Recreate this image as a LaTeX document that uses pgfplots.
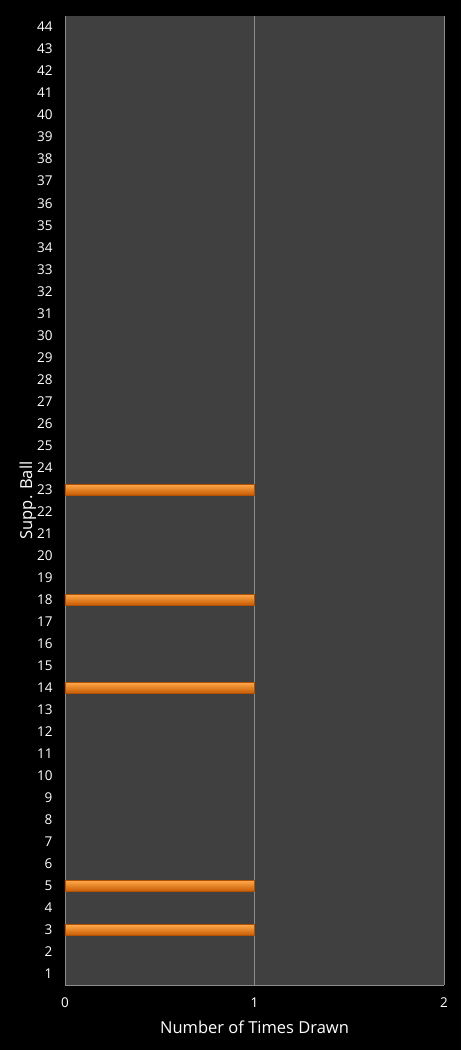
\documentclass[border=0pt]{standalone}
\usepackage{fontspec}
\setmainfont{Open Sans}
\usepackage{pgfplots}
\pgfplotsset{compat=1.18}
\definecolor{plotbg}{HTML}{404040}
\definecolor{gridc}{HTML}{8C8C8C}
\definecolor{barmid}{HTML}{F7820C}
\definecolor{bartop}{HTML}{FFA84A}
\definecolor{barbot}{HTML}{C85C04}
\definecolor{baredge}{HTML}{B05204}
\pgfplotsset{orangebar/.style={xbar, bar shift=0pt, bar width=10.5pt,
  draw=baredge, line width=0.4pt, forget plot,
  top color=bartop, middle color=barmid, bottom color=barbot}}
\begin{document}
\begin{tikzpicture}[x=1pt,y=1pt]
\fill[black] (0,0) rectangle (461,1050);
\begin{axis}[
  at={(65pt,65pt)}, anchor=south west,
  scale only axis,
  width=379pt, height=969pt,
  xmin=0, xmax=2,
  ymin=0.5, ymax=44.5,
  xtick={0,1,2},
  ytick={1,...,44},
  major tick length=0pt,
  axis background/.style={fill=plotbg},
  axis x line*=bottom,
  axis y line*=left,
  axis line style={gridc, line width=0.8pt, -},
  xmajorgrids,
  major grid style={gridc, line width=0.6pt},
  tick label style={white, font=\fontsize{13.5}{15}\selectfont},
  /pgf/number format/assume math mode=true,
  xticklabel style={yshift=-9pt},
  yticklabel style={xshift=-9pt},
  xlabel={Number of Times Drawn},
  ylabel={Supp. Ball},
  label style={white, font=\fontsize{16.5}{18}\selectfont},
  xlabel style={yshift=-7pt},
  ylabel style={yshift=-6pt},
  clip=false,
]
\addplot[orangebar] coordinates {(1,3)};
\addplot[orangebar] coordinates {(1,5)};
\addplot[orangebar] coordinates {(1,14)};
\addplot[orangebar] coordinates {(1,18)};
\addplot[orangebar] coordinates {(1,23)};
\end{axis}
\end{tikzpicture}
\end{document}
